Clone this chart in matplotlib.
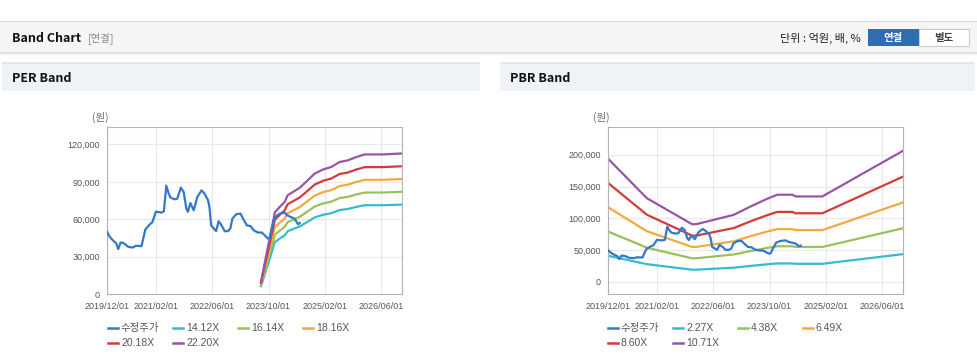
import matplotlib
matplotlib.use("Agg")
import numpy as np
import pandas as pd
import matplotlib.pyplot as plt
import matplotlib.dates as mdates
from matplotlib.patches import Rectangle
from matplotlib.lines import Line2D
from matplotlib.ticker import FuncFormatter

plt.rcParams['font.family'] = ['Liberation Sans', 'Noto Sans CJK KR', 'DejaVu Sans']

# adjusted close price (수정주가)
price_dates = ['2019-12-01', '2019-12-24', '2020-01-22', '2020-02-20', '2020-03-07', '2020-03-28',
               '2020-04-22', '2020-06-01', '2020-07-13', '2020-08-07', '2020-09-25', '2020-10-07',
               '2020-10-28', '2020-12-04', '2020-12-28', '2021-01-28', '2021-03-15', '2021-04-07',
               '2021-04-28', '2021-05-19', '2021-06-04', '2021-07-10', '2021-08-01', '2021-09-01',
               '2021-09-25', '2021-10-19', '2021-11-01', '2021-11-22', '2021-12-22', '2022-01-22',
               '2022-02-28', '2022-03-25', '2022-04-25', '2022-05-07', '2022-05-22', '2022-06-22',
               '2022-07-04', '2022-07-25', '2022-08-19', '2022-09-16', '2022-10-13', '2022-11-04',
               '2022-11-22', '2022-12-25', '2023-02-01', '2023-02-22', '2023-03-28', '2023-04-28',
               '2023-05-25', '2023-07-01', '2023-08-04', '2023-08-28', '2023-09-25', '2023-10-10',
               '2023-11-04', '2023-11-28', '2024-01-07', '2024-02-19', '2024-03-10', '2024-04-22',
               '2024-05-13', '2024-06-13', '2024-06-28']
price_vals = [49900, 46000, 43000, 40500, 36000, 41300,
              41000, 37900, 37300, 38700, 38400, 43200,
              51700, 55700, 57600, 66100, 65300, 66300,
              86900, 80500, 77300, 76000, 76500, 85300,
              81900, 68500, 65900, 73000, 67200, 77900,
              83200, 80500, 75200, 69800, 55000, 51700,
              50400, 58400, 55200, 50400, 50400, 52500,
              60500, 64000, 64500, 60500, 55000, 54500,
              51200, 49300, 49300, 47200, 44500, 45000,
              53900, 61900, 64500, 65300, 63200, 61300,
              60500, 56000, 57000]

# EPS path behind the PER band
eps_dates = ['2023-07-28', '2023-11-25', '2024-01-07', '2024-02-18', '2024-03-15', '2024-06-28',
             '2024-09-05', '2024-11-04', '2025-01-15', '2025-03-28', '2025-06-07', '2025-08-18',
             '2025-10-31', '2026-01-12', '2026-06-18', '2026-12-01']
eps_vals = [450, 2950, 3150, 3330, 3570, 3840,
            4110, 4350, 4500, 4590, 4770, 4830,
            4950, 5045, 5045, 5080]
per_multiples = [14.12, 16.14, 18.16, 20.18, 22.20]

# BPS path behind the PBR band
bps_dates = ['2019-12-01', '2020-11-01', '2021-02-01', '2021-12-01', '2022-01-10', '2022-06-01',
             '2022-11-25', '2023-04-20', '2023-09-10', '2023-12-07', '2024-04-15', '2024-05-15',
             '2025-01-01', '2026-12-01']
bps_vals = [18100, 12300, 11400, 8450, 8500, 9100,
            9850, 11080, 12200, 12800, 12800, 12550,
            12550, 19250]
pbr_multiples = [2.27, 4.38, 6.49, 8.60, 10.71]

tick_dates = ['2019-12-01', '2021-02-01', '2022-06-01', '2023-10-01', '2025-02-01', '2026-06-01']

price_color = '#3478c8'
band_colors = ['#33bccd', '#98c15b', '#f3a93b', '#d53a3a', '#9655a8']

W, H = 978, 362
fig = plt.figure(figsize=(W / 100, H / 100), dpi=100)


def fx(x):
    return x / W


def fy(y):
    return 1 - y / H


def box(x, y, w, h, **kw):
    fig.patches.append(Rectangle((fx(x), fy(y + h)), w / W, h / H,
                                 transform=fig.transFigure, **kw))


# header strip
box(0, 21, W, 1.5, color='#dcdcdc', lw=0)
box(0, 22.5, W, 30, color='#f5f5f5', lw=0)
box(0, 52, W, 1.2, color='#d8d8d8', lw=0)
box(0, 53.2, W, 1.5, color='#ececec', lw=0)
fig.text(fx(12), fy(38), 'Band Chart', fontsize=9, fontweight='bold', va='center',
         family=['Noto Sans CJK KR'], color='#111')
fig.text(fx(88), fy(38), '[연결]', fontsize=7.5, va='center',
         family=['Noto Sans CJK KR'], color='#888')
fig.text(fx(861), fy(38), '단위 : 억원, 배, %', fontsize=8, va='center', ha='right',
         family=['Noto Sans CJK KR'], color='#222')
box(868, 29, 51, 17, color='#2e6db0', lw=0)
box(919, 29, 50, 17, facecolor='white', edgecolor='#cccccc', lw=0.8)
fig.text(fx(893.5), fy(37.5), '연결', fontsize=7.5, fontweight='bold', va='center', ha='center',
         family=['Noto Sans CJK KR'], color='white')
fig.text(fx(944), fy(37.5), '별도', fontsize=7.5, fontweight='bold', va='center', ha='center',
         family=['Noto Sans CJK KR'], color='#444')

# panel headers
for x0, x1, title in [(2, 480, 'PER Band'), (500, 975, 'PBR Band')]:
    box(x0, 62, x1 - x0, 2, color='#e3e7ee', lw=0)
    box(x0, 64, x1 - x0, 27, color='#eff2f7', lw=0)
    fig.text(fx(x0 + 10), fy(78), title, fontsize=9, fontweight='bold', va='center',
             family=['Noto Sans CJK KR'], color='#111')


def band_plot(left, ylim, yticks, base_dates, base_vals, multiples, leg_x):
    ax = fig.add_axes([fx(left), fy(294), 295 / W, 167 / H])
    ax.plot(pd.to_datetime(price_dates), price_vals, color=price_color, lw=1.6, zorder=5)
    bd = pd.to_datetime(base_dates)
    base = np.array(base_vals, dtype=float)
    for m, c in zip(multiples, band_colors):
        ax.plot(bd, base * m, color=c, lw=1.6)
    ax.set_xlim(pd.Timestamp('2019-12-01'), pd.Timestamp('2026-12-01'))
    ax.set_ylim(*ylim)
    ax.set_xticks(pd.to_datetime(tick_dates))
    ax.xaxis.set_major_formatter(mdates.DateFormatter('%Y/%m/%d'))
    ax.set_yticks(yticks)
    ax.yaxis.set_major_formatter(FuncFormatter(lambda v, p: f'{int(v):,}'))
    ax.tick_params(length=0, labelsize=6.5, colors='#555')
    ax.tick_params(axis='x', pad=6)
    ax.tick_params(axis='y', pad=5)
    ax.grid(color='#e8e8e8', lw=0.8)
    ax.set_axisbelow(True)
    for s in ax.spines.values():
        s.set_color('#b4b4b4')
        s.set_linewidth(0.8)
    fig.text(fx(left - 15), fy(117), '(원)', fontsize=7.5, va='center', ha='left',
             family=['Noto Sans CJK KR'], color='#666')

    labels = ['수정주가'] + [f'{m:.2f}X' for m in multiples]
    colors = [price_color] + band_colors
    for i, (lab, c) in enumerate(zip(labels, colors)):
        r, k = divmod(i, 4)
        x = leg_x + k * 65
        y = 328 + r * 15
        fig.add_artist(Line2D([fx(x), fx(x + 10)], [fy(y), fy(y)], color=c, lw=1.8,
                              transform=fig.transFigure))
        fig.text(fx(x + 13), fy(y), lab, fontsize=7.5, va='center', ha='left', color='#555')
    return ax


band_plot(107, (0, 134000), [0, 30000, 60000, 90000, 120000],
          eps_dates, eps_vals, per_multiples, 108)
band_plot(608, (-19000, 243600), [0, 50000, 100000, 150000, 200000],
          bps_dates, bps_vals, pbr_multiples, 608)

fig.savefig('out.png', dpi=100)
